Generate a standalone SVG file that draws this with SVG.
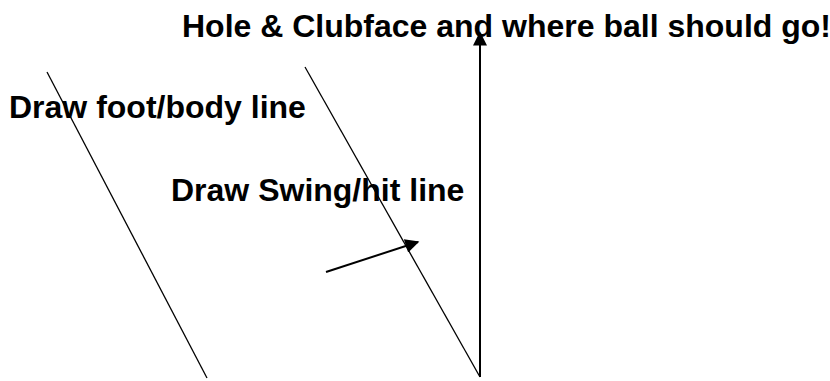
<svg xmlns="http://www.w3.org/2000/svg" width="830" height="381" viewBox="0 0 830 381">
<style>
.t{font-family:"Liberation Sans",Arial,sans-serif;font-weight:bold;font-size:32px;fill:#000}
.l{stroke:#000;stroke-width:1.3;fill:none}
.a{stroke:#000;stroke-width:2;fill:none}
</style>
<defs>
<marker id="ah" viewBox="0 0 10 10" refX="9" refY="5" markerWidth="7.5" markerHeight="7" markerUnits="strokeWidth" orient="auto">
<path d="M0,0 L10,5 L0,10 Z" fill="#000"/>
</marker>
</defs>
<rect width="830" height="381" fill="#fff"/>
<g id="connectors">
<line class="l" x1="47" y1="72" x2="207" y2="378"/>
<line class="l" x1="305" y1="67" x2="480" y2="377"/>
<line class="a" x1="480" y1="377" x2="480" y2="33" marker-end="url(#ah)"/>
<line class="a" x1="326" y1="272" x2="418" y2="242" marker-end="url(#ah)"/>
</g>
<g id="title"><text class="t" x="182" y="37">Hole &amp; Clubface and where ball should go!</text></g>
<g id="foot"><text class="t" x="9" y="118">Draw foot/body line</text></g>
<g id="swing"><text class="t" x="171" y="201">Draw Swing/hit line</text></g>
</svg>
